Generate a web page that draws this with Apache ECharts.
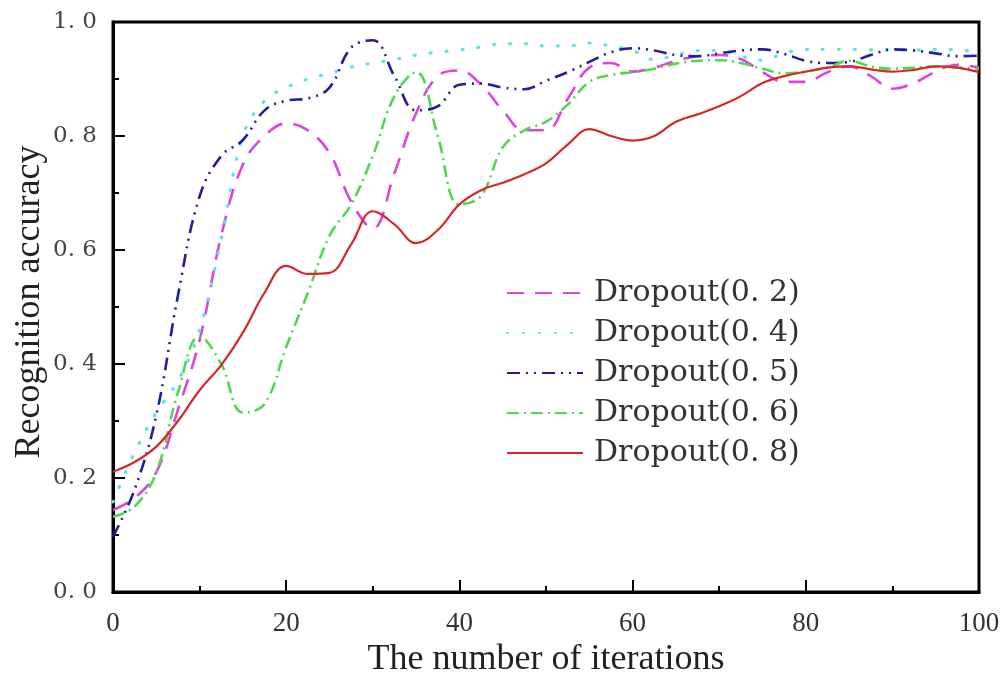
<!DOCTYPE html>
<html>
<head>
<meta charset="utf-8">
<script src="https://cdn.jsdelivr.net/npm/echarts@6/dist/echarts.min.js"></script>
<style>html,body{margin:0;padding:0;background:#fff;}#c{width:1005px;height:683px;}</style>
</head>
<body>
<div id="c"></div>
<script>
var iterations = [0,2.5,5,7.5,10,12.5,15,17.5,20,22.5,25,27.5,30,32.5,35,37.5,40,42.5,45,47.5,50,52.5,55,57.5,60,62.5,65,67.5,70,72.5,75,77.5,80,82.5,85,87.5,90,92.5,95,97.5,100];
var seriesNames = ['Dropout(0. 2)','Dropout(0. 4)','Dropout(0. 5)','Dropout(0. 6)','Dropout(0. 8)'];
var dropout02 = [.144,.165,.21,.32,.442,.625,.75,.80,.822,.81,.77,.685,.638,.735,.84,.905,.915,.89,.845,.81,.81,.865,.92,.928,.913,.92,.932,.94,.942,.935,.912,.895,.895,.912,.922,.905,.883,.893,.913,.925,.92];
var dropout04 = [.158,.245,.315,.37,.46,.62,.80,.862,.885,.90,.91,.921,.928,.934,.942,.947,.951,.956,.962,.962,.958,.958,.963,.958,.95,.934,.942,.95,.95,.94,.933,.945,.952,.952,.952,.951,.951,.951,.952,.951,.948];
var dropout05 = [.097,.18,.31,.52,.694,.765,.793,.845,.862,.866,.885,.955,.968,.905,.845,.852,.89,.892,.885,.882,.897,.912,.93,.947,.954,.95,.942,.94,.945,.95,.952,.944,.932,.928,.93,.942,.952,.95,.945,.94,.941];
var dropout06 = [.132,.15,.21,.35,.448,.40,.315,.33,.43,.525,.625,.68,.765,.87,.912,.80,.68,.695,.78,.81,.825,.855,.895,.907,.912,.918,.927,.932,.933,.928,.918,.91,.913,.92,.932,.922,.918,.92,.922,.92,.918];
var dropout08 = [.211,.228,.255,.30,.354,.398,.455,.525,.572,.558,.56,.61,.668,.645,.612,.635,.68,.705,.718,.733,.752,.785,.812,.80,.792,.80,.825,.838,.852,.87,.893,.905,.913,.92,.922,.917,.913,.916,.922,.92,.912];
var xTicks = [0,20,40,60,80,100];
var yTicks = [0,0.2,0.4,0.6,0.8,1.0];

function pairs(vals){ return iterations.map(function(x,i){ return [x, vals[i]]; }); }

var styles = [
  {color:'#dc45dc', type:[17,11], width:2.6, cap:'butt'},
  {color:'#5fe0ee', type:[1,15], width:3.2, cap:'round'},
  {color:'#1e1e9e', type:[13,6,2,6,2,6], width:2.6, cap:'butt'},
  {color:'#4fd84f', type:[12,5,2,5], width:2.6, cap:'butt'},
  {color:'#d42828', type:'solid', width:2.2, cap:'butt'}
];
var allVals = [dropout02, dropout04, dropout05, dropout06, dropout08];

var series = allVals.map(function(v, i){
  var s = styles[i];
  return {
    name: seriesNames[i], type:'line', data: pairs(v), smooth:0.4,
    symbol:'none', showSymbol:false,
    lineStyle:{color:s.color, type:s.type, width:s.width, cap:s.cap},
    itemStyle:{color:s.color}, z: 2 + i
  };
});

var chart = echarts.init(document.getElementById('c'), null, {renderer:'canvas'});
chart.setOption({
  animation:false,
  backgroundColor:'#fff',
  grid:{left:113, right:26, top:22, bottom:91, outerBoundsMode:'none', containLabel:false,
    show:true, borderColor:'#000', borderWidth:3, backgroundColor:'transparent'},
  xAxis:{
    type:'value', min:0, max:100, interval:20,
    axisLine:{show:true, lineStyle:{color:'#000', width:3}},
    axisTick:{show:true, inside:true, length:12, lineStyle:{color:'#000', width:2}},
    minorTick:{show:true, splitNumber:2, length:6, lineStyle:{color:'#000', width:2}},
    splitLine:{show:false},
    axisLabel:{color:'#333', fontFamily:'Liberation Serif', fontSize:27, margin:18,
      formatter:function(v){ return xTicks.indexOf(v) >= 0 ? String(v) : ''; }},
    name:'The number of iterations', nameLocation:'middle', nameGap:50,
    nameTextStyle:{color:'#222', fontFamily:'Liberation Serif', fontSize:36}
  },
  yAxis:{
    type:'value', min:0, max:1, interval:0.2,
    axisLine:{show:true, lineStyle:{color:'#000', width:3}},
    axisTick:{show:true, inside:true, length:12, lineStyle:{color:'#000', width:2}},
    minorTick:{show:true, splitNumber:2, length:6, lineStyle:{color:'#000', width:2}},
    splitLine:{show:false},
    axisLabel:{color:'#444', fontFamily:'DejaVu Serif', fontSize:23, margin:16,
      formatter:function(v){ var t = yTicks.filter(function(k){return Math.abs(k-v)<1e-6;}); return t.length ? t[0].toFixed(1).replace('.', '. ') : ''; }}
  },
  legend:{
    orient:'vertical', left:501, top:273,
    itemWidth:76, itemHeight:14, itemGap:10,
    itemStyle:{opacity:0},
    textStyle:{color:'#333', fontFamily:'DejaVu Serif', fontSize:30, lineHeight:28, padding:[0,0,0,6]},
    data: seriesNames
  },
  graphic:[{
    type:'text', x:30, y:302, rotation:Math.PI/2,
    style:{text:'Recognition accuracy', fill:'#222', font:'36px "Liberation Serif"', textAlign:'center', textVerticalAlign:'middle'}
  }],
  series: series
});
</script>
</body>
</html>
